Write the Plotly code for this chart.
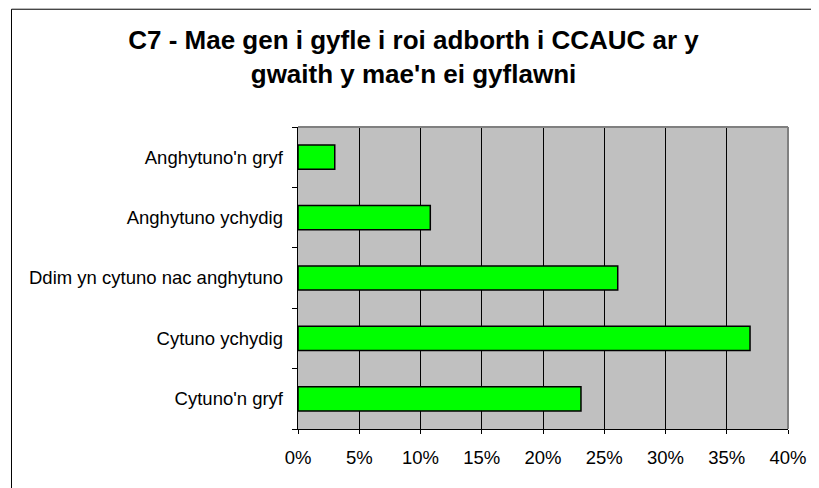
import plotly.graph_objects as go

# categories listed bottom to top
categories = ["Cytuno'n gryf", "Cytuno ychydig", "Ddim yn cytuno nac anghytuno",
              "Anghytuno ychydig", "Anghytuno'n gryf"]
values = [0.231, 0.369, 0.261, 0.108, 0.030]
tick_vals = [0, 0.05, 0.10, 0.15, 0.20, 0.25, 0.30, 0.35, 0.40]
tick_text = ["0%", "5%", "10%", "15%", "20%", "25%", "30%", "35%", "40%"]

font = "Arial, Liberation Sans, sans-serif"

fig = go.Figure(go.Bar(
    x=values, y=categories, orientation="h",
    marker=dict(color="#00FF00", line=dict(color="black", width=1.5)),
))

# the page adds an 8px body margin, so the figure is sized a little smaller
fig.update_layout(
    width=811, height=480,
    margin=dict(l=290, r=25, t=119, b=59),
    paper_bgcolor="white", plot_bgcolor="#C0C0C0",
    bargap=0.6, showlegend=False,
    font=dict(family=font, size=18.5, color="black"),
    title=dict(
        text="<b>C7 - Mae gen i gyfle i roi adborth i CCAUC ar y<br>gwaith y mae'n ei gyflawni</b>",
        x=0.5, xanchor="center", y=0.914, yanchor="top", yref="container",
        font=dict(family=font, size=26, color="black"),
    ),
)

fig.update_xaxes(
    range=[0, 0.40], tickvals=tick_vals, ticktext=tick_text,
    showgrid=True, gridcolor="black", gridwidth=1,
    showline=True, linecolor="black", linewidth=1,
    ticks="outside", ticklen=4, tickcolor="black", zeroline=False,
    ticklabelstandoff=8,
)
fig.update_yaxes(
    showgrid=False, showline=True, linecolor="black", linewidth=1,
    ticks="outside", ticklen=5, tickcolor="black", tickson="boundaries",
    ticksuffix="  ",
)

# plot area border (top and right) in grey
fig.add_shape(type="line", xref="paper", yref="paper", x0=0, x1=1, y0=1, y1=1,
              line=dict(color="#808080", width=2))
fig.add_shape(type="line", xref="paper", yref="paper", x0=1, x1=1, y0=0, y1=1,
              line=dict(color="#808080", width=2))
# outer chart frame
fig.add_shape(type="rect", xref="paper", yref="paper",
              x0=-0.5847, x1=1.2, y0=-0.4, y1=1.39,
              line=dict(color="black", width=1))

fig.write_html("out.html")
